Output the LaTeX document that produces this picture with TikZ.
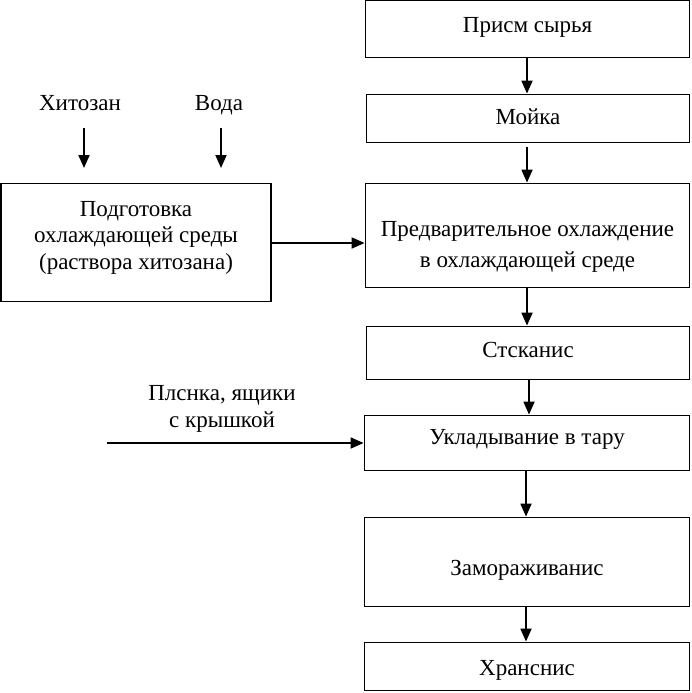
\documentclass[tikz,border=0pt]{standalone}
\usepackage{fontspec}
\setmainfont{Liberation Serif}
\usetikzlibrary{arrows.meta}
\begin{document}
\begin{tikzpicture}[x=1pt,y=-1pt,
  box/.style={draw, line width=1.8pt, rectangle, inner sep=0pt},
  lbl/.style={inner sep=0pt, align=center, font=\fontsize{23}{27}\selectfont},
  arr/.style={line width=1.8pt, -{Triangle[length=13pt,width=11pt]}}]
\useasboundingbox (0,0) rectangle (692,693);
\node[box, minimum width=324pt, minimum height=57pt] (pr) at (527.5,29) {};
\node[box, minimum width=323pt, minimum height=48pt] (mo) at (528,118.5) {};
\node[box, minimum width=324pt, minimum height=104pt] (pe) at (527.5,235.5) {};
\node[box, minimum width=323pt, minimum height=53pt] (st) at (528,353) {};
\node[box, minimum width=325pt, minimum height=55pt] (uk) at (527,443) {};
\node[box, minimum width=325pt, minimum height=89pt] (za) at (527,562) {};
\node[box, minimum width=325pt, minimum height=48pt] (hr) at (527,666.5) {};
\node[box, minimum width=270pt, minimum height=118pt] (po) at (136,242.5) {};
\node[lbl] (prt) at ([yshift=2pt]pr.center) {Присм сырья};
\node[lbl] (mot) at ([yshift=2pt]mo.center) {Мойка};
\node[lbl, font=\fontsize{23}{31}\selectfont] (pet) at ([yshift=-11pt]pe.center) {Предварительное охлаждение\\в охлаждающей среде};
\node[lbl] (stt) at ([yshift=3pt]st.center) {Стсканис};
\node[lbl] (ukt) at ([yshift=4pt]uk.center) {Укладывание в тару};
\node[lbl] (zat) at ([yshift=-8pt]za.center) {Замораживанис};
\node[lbl] (hrt) at ([yshift=-4pt]hr.center) {Хранснис};
\node[lbl, font=\fontsize{23}{26.5}\selectfont] (pot) at ([yshift=5pt]po.center) {Подготовка\\охлаждающей среды\\(раствора хитозана)};
\node[lbl, anchor=base] (hi) at (80,110) {Хитозан};
\node[lbl, anchor=base] (vo) at (219,110) {Вода};
\node[lbl] (pl) at (222,409) {Плснка, ящики\\с крышкой};
\coordinate (hiA) at (84,128);
\coordinate (voA) at (221,128);
\coordinate (plA) at (107,443);
\draw[arr] (hiA) -- (84,168);
\draw[arr] (voA) -- (221,168);
\draw[arr] (pr.south -| 527,0) -- (mo.north -| 527,0);
\draw[arr] (527,147) -- (pe.north -| 527,0);
\draw[arr] (pe.south -| 527,0) -- (st.north -| 527,0);
\draw[arr] (st.south -| 529,0) -- (uk.north -| 529,0);
\draw[arr] (uk.south -| 526,0) -- (za.north -| 526,0);
\draw[arr] (za.south -| 526,0) -- (hr.north -| 526,0);
\draw[arr] (po.east |- 0,243) -- (pe.west |- 0,243);
\draw[arr] (plA) -- (uk.west |- plA);
\end{tikzpicture}
\end{document}
